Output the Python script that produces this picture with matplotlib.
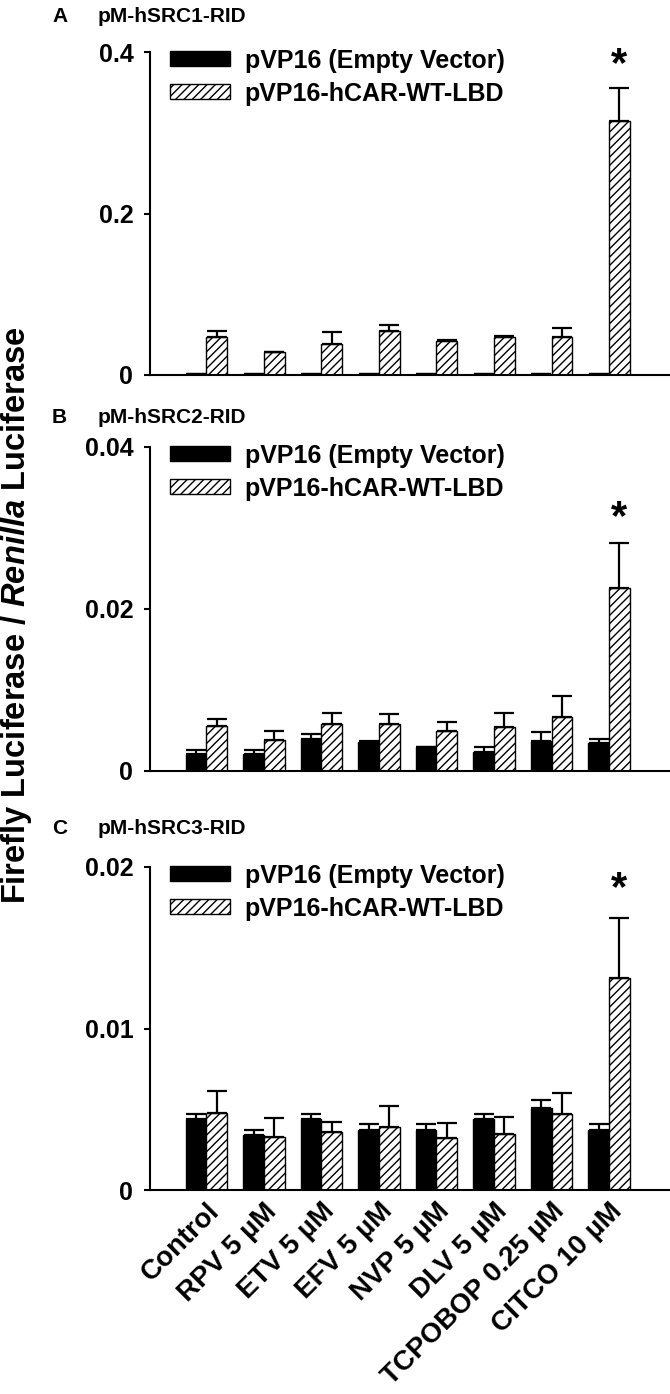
import numpy as np
import matplotlib
matplotlib.use('Agg')
import matplotlib.pyplot as plt
from matplotlib.ticker import FuncFormatter

plt.rcParams['font.family'] = ['Liberation Sans', 'DejaVu Sans']
plt.rcParams['font.weight'] = 'bold'
plt.rcParams['mathtext.fontset'] = 'custom'
plt.rcParams['mathtext.it'] = 'Liberation Sans:italic:bold'
plt.rcParams['mathtext.rm'] = 'Liberation Sans:bold'
plt.rcParams['hatch.linewidth'] = 1.0

# data
categories = ['Control', 'RPV 5 µM', 'ETV 5 µM', 'EFV 5 µM', 'NVP 5 µM',
              'DLV 5 µM', 'TCPOBOP 0.25 µM', 'CITCO 10 µM']
series_names = ['pVP16 (Empty Vector)', 'pVP16-hCAR-WT-LBD']

src1_empty = [0.0012, 0.0010, 0.0015, 0.0010, 0.0010, 0.0008, 0.0008, 0.0010]
src1_empty_err = [0, 0, 0, 0, 0, 0, 0, 0]
src1_car = [0.047, 0.028, 0.038, 0.055, 0.042, 0.047, 0.047, 0.314]
src1_car_err = [0.008, 0.001, 0.015, 0.007, 0.001, 0.001, 0.011, 0.041]

src2_empty = [0.0021, 0.0021, 0.0040, 0.0036, 0.0030, 0.0024, 0.0037, 0.0034]
src2_empty_err = [0.0005, 0.0005, 0.0006, 0.0001, 0.0, 0.0006, 0.0011, 0.0006]
src2_car = [0.0055, 0.0038, 0.0058, 0.0058, 0.0050, 0.0054, 0.0067, 0.0226]
src2_car_err = [0.0009, 0.0011, 0.0014, 0.0012, 0.0011, 0.0017, 0.0025, 0.0055]

src3_empty = [0.00437, 0.0034, 0.00437, 0.00371, 0.00371, 0.00437, 0.00505, 0.00371]
src3_empty_err = [0.00033, 0.0003, 0.00033, 0.00035, 0.00035, 0.00033, 0.00055, 0.00035]
src3_car = [0.00474, 0.0033, 0.00357, 0.00392, 0.00324, 0.00344, 0.00468, 0.0131]
src3_car_err = [0.00138, 0.00113, 0.00066, 0.00128, 0.00088, 0.00106, 0.00134, 0.00375]

panels = [
    ('A', 'pM-hSRC1-RID', src1_empty, src1_empty_err, src1_car, src1_car_err, [0, 0.2, 0.4]),
    ('B', 'pM-hSRC2-RID', src2_empty, src2_empty_err, src2_car, src2_car_err, [0, 0.02, 0.04]),
    ('C', 'pM-hSRC3-RID', src3_empty, src3_empty_err, src3_car, src3_car_err, [0, 0.01, 0.02]),
]
sig_index = 7

W, H = 670, 1394
fig = plt.figure(figsize=(W / 100, H / 100), dpi=100)

# pixel layout: (top, bottom, title y, star offset) of each panel
rows = [(52, 375, 17, 2), (447, 771, 418, 4), (867, 1190, 828, 6)]
left_px, right_px = 150, 670

x = np.arange(len(categories))
bw = 0.36

def fmt(v, _):
    return '0' if v == 0 else f'{v:g}'

for (letter, title, e, ee, c, ce, yt), (top, bot, ty, so) in zip(panels, rows):
    ax = fig.add_axes([left_px / W, 1 - bot / H, (right_px - left_px) / W, (bot - top) / H])
    ax.bar(x - bw / 2, e, bw, color='black', edgecolor='black', linewidth=1,
           yerr=[np.zeros(len(ee)), ee], capsize=7,
           error_kw=dict(elinewidth=1.6, capthick=1.6, ecolor='black'),
           label=series_names[0])
    ax.bar(x + bw / 2, c, bw, color='white', edgecolor='black', linewidth=1,
           hatch='////', yerr=[np.zeros(len(ce)), ce], capsize=7,
           error_kw=dict(elinewidth=1.6, capthick=1.6, ecolor='black'),
           label=series_names[1])
    ax.annotate('*', xy=(x[sig_index] + bw / 2, c[sig_index] + ce[sig_index]),
                xytext=(0, so), textcoords='offset points', ha='center', va='bottom',
                fontsize=30, fontweight='bold')
    ax.set_xlim(-0.98, 8.06)
    ax.set_ylim(0, yt[-1])
    ax.set_yticks(yt)
    ax.yaxis.set_major_formatter(FuncFormatter(fmt))
    ax.spines['top'].set_visible(False)
    ax.spines['right'].set_visible(False)
    ax.spines['left'].set_linewidth(1.5)
    ax.spines['bottom'].set_linewidth(1.5)
    ax.spines['left'].set_bounds(0, yt[-1])
    ax.tick_params(axis='y', direction='out', length=4, width=1.5, labelsize=18, pad=8)
    ax.tick_params(axis='x', length=0, labelsize=20, pad=6)
    ax.set_xticks(x)
    if letter == 'C':
        ax.set_xticklabels(categories, rotation=45, ha='right', rotation_mode='anchor')
    else:
        ax.set_xticklabels([])
    ax.legend(loc='upper left', bbox_to_anchor=(0.038, 1.01), frameon=False,
              fontsize=18, handlelength=2.4, handleheight=0.55, handletextpad=0.6,
              labelspacing=0.35, borderpad=0, borderaxespad=0)
    fig.text(52 / W, 1 - ty / H, letter, fontsize=15, fontweight='bold',
             va='center', ha='left')
    fig.text(98 / W, 1 - ty / H, title, fontsize=15, fontweight='bold',
             va='center', ha='left')

fig.text(17 / W, 1 - 615 / H, 'Firefly Luciferase / $\\mathit{Renilla}$ Luciferase',
         rotation=90, fontsize=23.5, fontweight='bold', ha='center', va='center')

fig.savefig('out.png', dpi=100)
